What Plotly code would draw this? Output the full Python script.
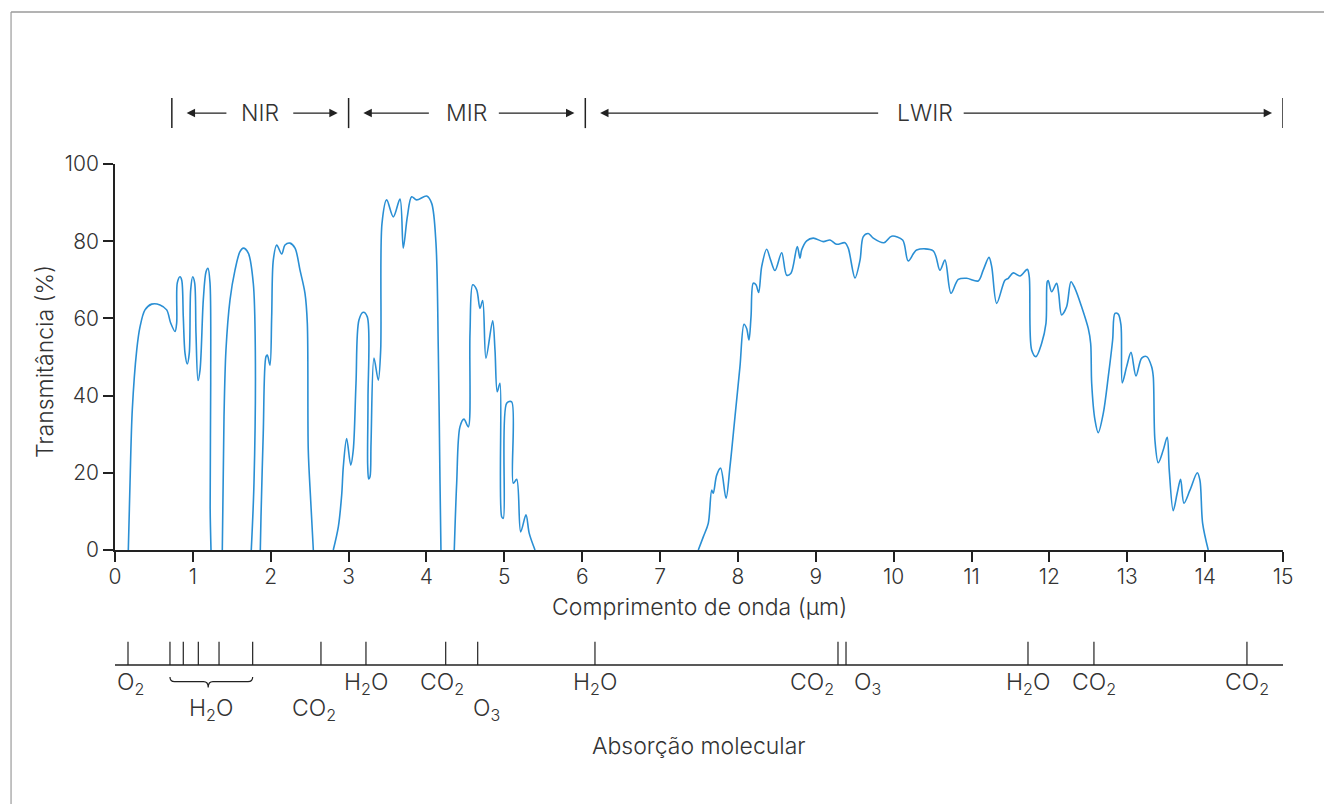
import plotly.graph_objects as go

# ---------------- data ----------------
# atmospheric transmittance curve, segmented at the fully absorbed bands
wl_seg1 = [0.171, 0.193, 0.222, 0.279, 0.321, 0.385, 0.471, 0.578, 0.664, 0.715,
           0.771, 0.792, 0.800, 0.835, 0.857, 0.877, 0.899, 0.928, 0.954, 0.972,
           0.998, 1.023, 1.040, 1.066, 1.092, 1.134, 1.169, 1.194, 1.220, 1.229,
           1.222, 1.233]
tr_seg1 = [0, 17.4, 36.3, 51.8, 57.8, 62.2, 63.7, 63.5, 62.2, 58.8,
           56.6, 58.8, 69.2, 70.8, 69.9, 60.4, 51.0, 48.2, 51.0, 67.4,
           70.8, 69.2, 56.2, 43.9, 46.6, 64.8, 72.1, 73.0, 69.2, 43.3,
           11.2, 0]

wl_seg2 = [1.378, 1.400, 1.425, 1.477, 1.541, 1.605, 1.648, 1.712, 1.776, 1.802, 1.785, 1.750]
tr_seg2 = [0, 34.5, 51.8, 64.8, 72.5, 77.3, 78.2, 76.9, 69.1, 51.8, 17.4, 0]

wl_seg3 = [1.866, 1.875, 1.904, 1.939, 1.956, 1.990, 2.012, 2.033, 2.077, 2.141,
           2.183, 2.247, 2.312, 2.376, 2.440, 2.470, 2.482, 2.513, 2.547]
tr_seg3 = [0, 8.6, 30.3, 50.1, 50.5, 47.9, 60.4, 75.1, 79.0, 76.7,
           79.0, 79.5, 78.2, 72.5, 66.5, 58.7, 25.9, 12.9, 0]

wl_seg4 = [2.803, 2.868, 2.911, 2.932, 2.975, 3.027, 3.060, 3.095, 3.133, 3.189,
           3.240, 3.249, 3.245, 3.258, 3.275, 3.288, 3.326, 3.381, 3.412, 3.429,
           3.489, 3.574, 3.660, 3.702, 3.754, 3.810, 3.874, 4.003, 4.067, 4.122,
           4.152, 4.174, 4.186]
tr_seg4 = [0, 6.0, 14.2, 21.6, 28.9, 22.0, 25.9, 43.2, 59.6, 61.6,
           60.4, 38.9, 22.0, 18.4, 19.0, 27.6, 49.7, 44.0, 51.8, 84.6,
           90.7, 86.3, 90.9, 78.2, 86.3, 91.5, 90.7, 91.7, 89.8, 79.5,
           51.8, 17.3, 0]

wl_seg5 = [4.357, 4.388, 4.430, 4.482, 4.537, 4.559, 4.594, 4.645, 4.687, 4.722,
           4.764, 4.850, 4.880, 4.909, 4.944, 4.966, 4.987, 5.030, 5.094, 5.115,
           5.159, 5.210, 5.278, 5.320, 5.394]
tr_seg5 = [0, 17.3, 31.9, 33.9, 31.9, 56.1, 68.7, 67.4, 62.6, 64.6,
           49.7, 59.4, 51.8, 41.0, 43.2, 8.6, 8.2, 38.0, 38.4, 17.3,
           18.3, 4.7, 9.1, 4.3, 0]

wl_seg6 = [7.491, 7.555, 7.619, 7.663, 7.683, 7.727, 7.778, 7.847, 7.898, 7.962,
           8.026, 8.078, 8.112, 8.142, 8.168, 8.197, 8.232, 8.266, 8.305, 8.369,
           8.420, 8.476, 8.562, 8.626, 8.681, 8.762, 8.797, 8.818, 8.883, 8.967,
           9.096, 9.182, 9.268, 9.375, 9.417, 9.503, 9.568, 9.610, 9.674, 9.738,
           9.875, 9.974, 10.115, 10.187, 10.295, 10.508, 10.594, 10.659, 10.736, 10.830,
           10.937, 11.086, 11.150, 11.224, 11.259, 11.323, 11.429, 11.472, 11.536, 11.622,
           11.716, 11.741, 11.772, 11.827, 11.900, 11.956, 11.972, 11.985, 12.029, 12.093,
           12.119, 12.157, 12.221, 12.277, 12.328, 12.414, 12.499, 12.530, 12.543, 12.585,
           12.627, 12.692, 12.756, 12.812, 12.842, 12.884, 12.919, 12.936, 12.992, 13.048,
           13.112, 13.185, 13.249, 13.313, 13.334, 13.355, 13.398, 13.462, 13.513, 13.539,
           13.590, 13.641, 13.685, 13.728, 13.805, 13.899, 13.933, 13.968, 14.040]
tr_seg6 = [0, 3.4, 6.9, 15.5, 14.7, 19.4, 21.2, 13.4, 21.6, 34.5,
           47.5, 58.5, 57.4, 54.4, 60.4, 69.1, 68.7, 66.7, 73.4, 77.9,
           75.1, 72.4, 77.0, 71.2, 71.7, 78.6, 75.6, 77.7, 80.1, 80.8,
           79.9, 80.3, 79.2, 79.6, 78.2, 70.5, 75.1, 81.2, 82.0, 80.8,
           79.6, 81.3, 80.3, 74.9, 77.7, 77.5, 72.5, 75.1, 66.5, 70.1,
           70.4, 69.7, 72.5, 75.8, 73.4, 63.9, 69.9, 70.4, 71.8, 71.0,
           72.7, 70.8, 51.8, 50.1, 53.5, 58.7, 69.5, 69.8, 66.9, 69.1,
           66.5, 60.9, 63.0, 69.5, 67.8, 63.0, 57.4, 53.5, 43.2, 33.7,
           30.4, 35.4, 44.9, 54.4, 61.3, 61.1, 58.3, 43.3, 47.5, 51.2,
           45.1, 49.7, 50.1, 47.5, 44.9, 28.5, 22.6, 25.9, 29.2, 20.7,
           10.2, 14.7, 18.3, 12.1, 15.5, 20.0, 18.1, 6.9, 0]

x_ticks = list(range(0, 16))
y_ticks = [0, 20, 40, 60, 80, 100]

# spectral bands (boundaries in µm)
band_edges = [0.73, 3.0, 6.04, 15.0]
band_names = ["NIR", "MIR", "LWIR"]
band_label_x = [1.86, 4.51, 10.40]
band_text_gap_left = [0.41, 0.46, 0.58]    # label centre -> tail of left arrow, µm
band_text_gap_right = [0.41, 0.40, 0.48]   # label centre -> tail of right arrow, µm

# molecular absorption marks (µm)
mol_tick_x = [0.167, 0.706, 0.877, 1.070, 1.336, 1.768, 2.645, 3.223, 4.247, 4.658,
              6.164, 9.285, 9.388, 11.725, 12.572, 14.537]
h2o_group = [0.706, 0.877, 1.070, 1.336, 1.768]
mol_labels = ["O<sub>2</sub>", "H<sub>2</sub>O", "CO<sub>2</sub>", "H<sub>2</sub>O",
              "CO<sub>2</sub>", "O<sub>3</sub>", "H<sub>2</sub>O", "CO<sub>2</sub>",
              "O<sub>3</sub>", "H<sub>2</sub>O", "CO<sub>2</sub>", "CO<sub>2</sub>"]
mol_label_x = [0.167, (h2o_group[0] + h2o_group[-1]) / 2, 2.645, 3.223, 4.247, 4.658,
               6.164, 9.285, 9.388, 11.725, 12.572, 14.537]
mol_label_row = [0, 1, 1, 0, 0, 1, 0, 0, 0, 0, 0, 0]
mol_label_anchor = ["center", "center", "center", "center", "center", "center",
                    "center", "right", "left", "center", "center", "center"]
mol_label_shift = [2, 0, -7, 0, -4, 9, 0, -2, 6, 0, 0, 0]

# ---------------- style ----------------
FONT = "Inter"
TXT = "#333333"
AX = "#222222"
BLUE = "#2a8fd4"
FS = 23
TFS = 21

segments = [(wl_seg1, tr_seg1), (wl_seg2, tr_seg2), (wl_seg3, tr_seg3),
            (wl_seg4, tr_seg4), (wl_seg5, tr_seg5), (wl_seg6, tr_seg6)]
xs, ys = [], []
for w, t in segments:
    xs += w + [None]
    ys += t + [None]

fig = go.Figure()
fig.add_trace(go.Scatter(x=xs, y=ys, mode="lines", connectgaps=False,
                         line=dict(color=BLUE, width=1.6, shape="spline", smoothing=0.9),
                         hoverinfo="skip", showlegend=False))

font_txt = dict(family=FONT, size=FS, color=TXT, weight=300)
shapes = []
annotations = []

# band bars and arrows
bar_y0, bar_y1, arrow_y = 1.093, 1.171, 1.132
for e in band_edges:
    shapes.append(dict(type="line", xref="x", yref="paper", x0=e, x1=e, y0=bar_y0, y1=bar_y1,
                       line=dict(color=AX, width=1.5)))
for i, name in enumerate(band_names):
    a, b = band_edges[i], band_edges[i + 1]
    mid = band_label_x[i]
    annotations.append(dict(x=mid, y=arrow_y, xref="x", yref="paper", text=name, showarrow=False,
                            font=font_txt, xanchor="center", yanchor="middle"))
    for head, tail in [(a + 0.19, mid - band_text_gap_left[i]),
                       (b - 0.14, mid + band_text_gap_right[i])]:
        annotations.append(dict(x=head, y=arrow_y, xref="x", yref="paper", ax=tail, ay=0,
                                axref="x", ayref="pixel", text="", showarrow=True,
                                arrowhead=2, arrowsize=1.4, arrowwidth=1.2, arrowcolor=AX, standoff=0))

# molecular absorption strip
strip_y, strip_top = -0.298, -0.238
shapes.append(dict(type="line", xref="x", yref="paper", x0=x_ticks[0], x1=x_ticks[-1],
                   y0=strip_y, y1=strip_y, line=dict(color=AX, width=1.5)))
for m in mol_tick_x:
    shapes.append(dict(type="line", xref="x", yref="paper", x0=m, x1=m, y0=strip_y, y1=strip_top,
                       line=dict(color=AX, width=1.2)))
# brace under the H2O group
b0, b1 = h2o_group[0], h2o_group[-1]
bc = (b0 + b1) / 2 - 0.04
d = 0.06
yt, ym, yb = -0.329, -0.341, -0.356
path = (f"M {b0},{yt} Q {b0},{ym} {b0 + d},{ym} L {bc - d},{ym} Q {bc},{ym} {bc},{yb} "
        f"Q {bc},{ym} {bc + d},{ym} L {b1 - d},{ym} Q {b1},{ym} {b1},{yt}")
shapes.append(dict(type="path", xref="x", yref="paper", path=path,
                   line=dict(color=AX, width=1.2)))
row_y = [-0.347, -0.414]
for lab, lx, r, anc, sh in zip(mol_labels, mol_label_x, mol_label_row, mol_label_anchor, mol_label_shift):
    annotations.append(dict(x=lx, y=row_y[r], xref="x", yref="paper", text=lab, showarrow=False,
                            xanchor=anc, yanchor="middle", xshift=sh, font=font_txt))
annotations.append(dict(x=0.5, y=-0.508, xref="paper", yref="paper", text="Absorção molecular",
                        showarrow=False, xanchor="center", yanchor="middle", font=font_txt))
# axis titles
annotations.append(dict(x=0.5, y=-0.147, xref="paper", yref="paper", text="Comprimento de onda (µm)",
                        showarrow=False, xanchor="center", yanchor="middle", font=font_txt))
annotations.append(dict(x=-0.0599, y=0.487, xref="paper", yref="paper", text="Transmitância (%)",
                        showarrow=False, xanchor="center", yanchor="middle", textangle=-90,
                        font=font_txt))

# outer frame (top and left edges)
shapes.append(dict(type="line", xref="paper", yref="paper", x0=-0.089, x1=1.05, y0=1.394, y1=1.394,
                   line=dict(color="#9a9a9a", width=1.5)))
shapes.append(dict(type="line", xref="paper", yref="paper", x0=-0.089, x1=-0.089, y0=1.394, y1=-0.7,
                   line=dict(color="#9a9a9a", width=1.2)))

axis_common = dict(showgrid=False, zeroline=False, showline=True, linecolor=AX, linewidth=1.5,
                   ticks="outside", ticklen=10, tickwidth=1.5, tickcolor=AX,
                   tickfont=dict(family=FONT, size=TFS, color=TXT, weight=300))
fig.update_layout(
    width=1324, height=804,
    margin=dict(l=115, r=41, t=164, b=254, autoexpand=False),
    paper_bgcolor="white", plot_bgcolor="white",
    xaxis=dict(range=[0, 15], tickvals=x_ticks, ticklabelstandoff=-3, **axis_common),
    yaxis=dict(range=[0, 100], tickvals=y_ticks, **axis_common),
    shapes=shapes, annotations=annotations, showlegend=False,
)

fig.write_html("out.html")
